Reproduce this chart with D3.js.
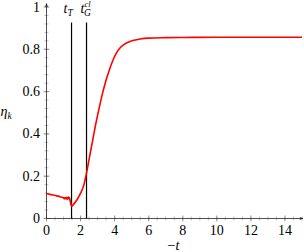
<!DOCTYPE html>
<html><head><meta charset="utf-8">
<script src="https://cdn.jsdelivr.net/npm/d3@7"></script>
<style>
html,body{margin:0;padding:0;background:#fff;}
#pre{position:absolute;left:0;top:0;font-family:'Liberation Serif';font-size:14px;color:#fff;opacity:0.01;}
</style></head>
<body><span id="pre"><i>t</i>0</span><svg id="c" width="304" height="252" style="position:absolute;left:0;top:0"></svg>
<script>
// data
const tValues = [0,0.2,0.4,0.6,0.8,0.9,1.0,1.05,1.1,1.15,1.2,1.25,1.3,1.35,1.4,1.47,1.6,1.8,2.0,2.2,2.35,2.5,2.7,2.9,3.1,3.3,3.5,3.7,3.9,4.1,4.3,4.6,5.0,5.5,6.0,7,8,10,12,15];
const etaValues = [0.118,0.114,0.111,0.107,0.103,0.100,0.098,0.093,0.099,0.092,0.100,0.091,0.102,0.097,0.080,0.057,0.068,0.090,0.120,0.160,0.215,0.280,0.365,0.450,0.525,0.595,0.655,0.705,0.748,0.782,0.805,0.826,0.840,0.849,0.853,0.855,0.856,0.857,0.857,0.857];
const markerPos = [1.47, 2.35];
const xTicks = [0,2,4,6,8,10,12,14];
const yTicks = [0,0.2,0.4,0.6,0.8,1];
const yTickLabels = ["0","0.2","0.4","0.6","0.8","1"];

const FF = "Liberation Serif";
const svg = d3.select("#c");
const x = d3.scaleLinear().domain([0,15]).range([46.5,302]);
const y = d3.scaleLinear().domain([0,1]).range([218.5,7]);

// minor ticks
const xMinor = d3.range(0,15.01,0.5);
const yMinor = d3.range(0,1.001,0.04);
svg.append("g").selectAll("line").data(xMinor).join("line")
  .attr("x1",d=>x(d)).attr("x2",d=>x(d)).attr("y1",y(0)-2).attr("y2",y(0)+2)
  .attr("stroke","#999").attr("stroke-width",0.6);
svg.append("g").selectAll("line").data(yMinor).join("line")
  .attr("y1",d=>y(d)).attr("y2",d=>y(d)).attr("x1",x(0)-2).attr("x2",x(0)+2)
  .attr("stroke","#999").attr("stroke-width",0.6);
// major ticks
svg.append("g").selectAll("line").data(xTicks).join("line")
  .attr("x1",d=>x(d)).attr("x2",d=>x(d)).attr("y1",y(0)-3).attr("y2",y(0)+3)
  .attr("stroke","#777").attr("stroke-width",0.7);
svg.append("g").selectAll("line").data(yTicks).join("line")
  .attr("y1",d=>y(d)).attr("y2",d=>y(d)).attr("x1",x(0)-3).attr("x2",x(0)+3)
  .attr("stroke","#777").attr("stroke-width",0.7);

// axes lines with arrows
const defs = svg.append("defs");
defs.append("marker").attr("id","arr").attr("viewBox","0 0 10 10").attr("refX",9).attr("refY",5)
  .attr("markerWidth",5).attr("markerHeight",5).attr("orient","auto-start-reverse")
  .append("path").attr("d","M0,1 L10,5 L0,9 L3,5 Z").attr("fill","#222");
svg.append("line").attr("x1",x(0)).attr("x2",303).attr("y1",y(0)).attr("y2",y(0))
  .attr("stroke","#222").attr("stroke-width",0.8).attr("marker-end","url(#arr)");
svg.append("line").attr("x1",x(0)).attr("x2",x(0)).attr("y1",y(0)).attr("y2",3.5)
  .attr("stroke","#222").attr("stroke-width",0.8).attr("marker-end","url(#arr)");

// tick labels
svg.append("g").selectAll("text").data(xTicks).join("text").attr("font-family",FF).style("font-family","'Liberation Serif'")
  .attr("x",d=>x(d)).attr("y",234.5).attr("text-anchor","middle").attr("font-size",14).text(d=>d);
svg.append("g").selectAll("text").data(yTicks).join("text").attr("font-family",FF).style("font-family","'Liberation Serif'")
  .attr("x",40).attr("y",d=>y(d)+4.5).attr("text-anchor","end").attr("font-size",14)
  .text((d,i)=>yTickLabels[i]);

// vertical marker lines
svg.append("g").selectAll("line").data(markerPos).join("line")
  .attr("x1",d=>x(d)).attr("x2",d=>x(d)).attr("y1",22.5).attr("y2",y(0))
  .attr("stroke","#000").attr("stroke-width",1.2);

// curve
const pts = tValues.map((t,i)=>[t,etaValues[i]]);
svg.append("path").datum(pts)
  .attr("d",d3.line().x(d=>x(d[0])).y(d=>y(d[1])).curve(d3.curveMonotoneX))
  .attr("fill","none").attr("stroke","#ff0000").attr("stroke-width",1.6);

// labels
function lab(xp, yp){
  return svg.append("text").attr("font-family",FF).style("font-family","'Liberation Serif'")
    .attr("x",xp).attr("y",yp).attr("font-size",14);
}
const tT = lab(x(markerPos[0])-8, 13);
tT.append("tspan").attr("font-style","italic").text("t");
tT.append("tspan").attr("font-style","italic").attr("font-size",9.5).attr("dy",2.5).text("T");
const tG = lab(x(markerPos[1])-6, 13);
tG.append("tspan").attr("font-style","italic").text("t");
tG.append("tspan").attr("font-style","italic").attr("font-size",8.5).attr("dy",-6).text("cl");
tG.append("tspan").attr("font-style","italic").attr("font-size",9.5).attr("dx",-6.5).attr("dy",9).text("G");

const eta = lab(0.5, 116);
eta.append("tspan").attr("font-style","italic").text("η");
eta.append("tspan").attr("font-style","italic").attr("font-size",9.5).attr("dy",3).text("k");

const xl = lab(x(7.45), 250).attr("text-anchor","middle");
xl.append("tspan").text("−");
xl.append("tspan").attr("font-style","italic").text("t");
</script></body></html>
